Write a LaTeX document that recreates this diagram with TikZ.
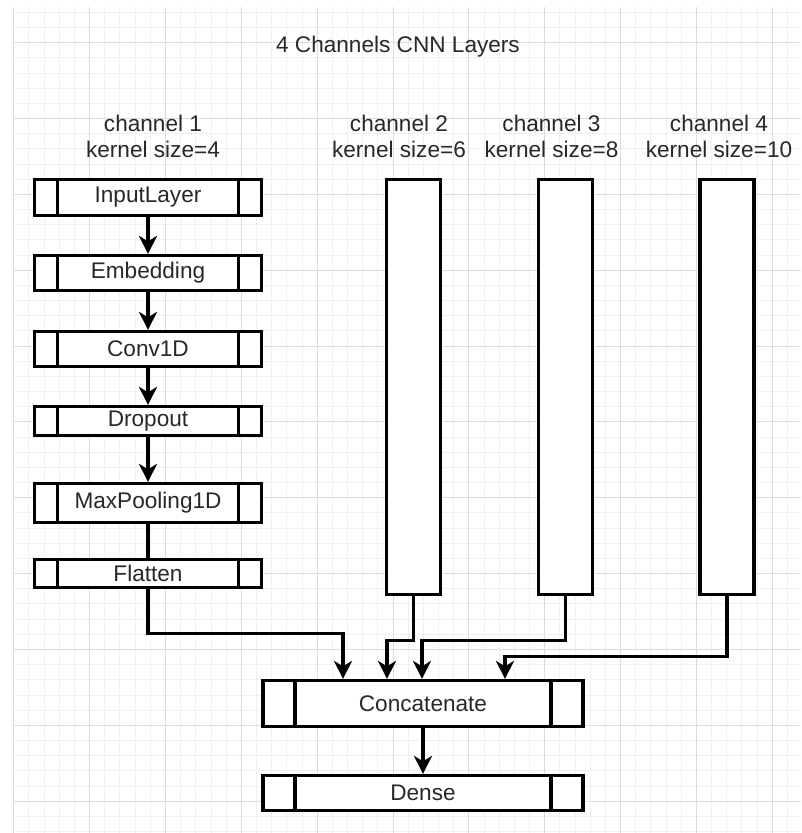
\documentclass[tikz,border=0pt]{standalone}
\usepackage{fontspec}
\setmainfont{Liberation Sans}
\usetikzlibrary{arrows.meta,calc}
\definecolor{gridminor}{RGB}{240,240,240}
\definecolor{gridmajor}{RGB}{220,220,220}
\definecolor{txt}{RGB}{40,40,40}
\tikzset{
  layer/.style={draw, line width=3.2pt, fill=white, inner sep=0pt, minimum width=#1,
    path picture={
      \draw[line width=3.2pt] ($(path picture bounding box.north west)!0.1!(path picture bounding box.north east)$)
        -- ($(path picture bounding box.south west)!0.1!(path picture bounding box.south east)$);
      \draw[line width=3.2pt] ($(path picture bounding box.north west)!0.9!(path picture bounding box.north east)$)
        -- ($(path picture bounding box.south west)!0.9!(path picture bounding box.south east)$);
    }},
  chan/.style={draw, line width=3.2pt, fill=white, minimum width=54, minimum height=415, inner sep=0pt},
  arr/.style={line width=3.2pt, -{Stealth[length=18pt,width=18pt,inset=5.5pt]}},
  link/.style={line width=3.2pt}
}
\begin{document}
\begin{tikzpicture}[x=1pt,y=-1pt,font=\fontsize{22.6}{26}\selectfont,text=txt]
  \useasboundingbox[fill=white] (0,0) rectangle (801,833);
  % background grid
  \foreach \i in {0,...,51} \draw[gridminor] ({13.5+15.17*\i},7) -- ({13.5+15.17*\i},833);
  \foreach \j in {0,...,54} \draw[gridminor] (13,{12.06+15.17*\j}) -- (801,{12.06+15.17*\j});
  \foreach \i in {0,...,10} \draw[gridmajor] ({13.5+75.85*\i},7) -- ({13.5+75.85*\i},833);
  \foreach \j in {0,...,10} \draw[gridmajor] (13,{42.4+75.85*\j}) -- (801,{42.4+75.85*\j});

  \node[anchor=base] (ttl) at (398,52) {4 Channels CNN Layers};
  \node[align=center] (l1) at (153,136.5) {channel 1\\kernel size=4};
  \node[align=center] (l2) at (399,136.5) {channel 2\\kernel size=6};
  \node[align=center] (l3) at (551.5,136.5) {channel 3\\kernel size=8};
  \node[align=center] (l4) at (719,136.5) {channel 4\\kernel size=10};

  % channel 1
  \node[layer=227, minimum height=36] (inp) at (148,197.5) {InputLayer};
  \node[layer=227, minimum height=35] (emb) at (148,273) {Embedding};
  \node[layer=227, minimum height=35] (conv) at (148,349) {Conv1D};
  \node[layer=227, minimum height=29] (drop) at (148,421) {Dropout};
  \node[layer=227, minimum height=39] (pool) at (148,503) {MaxPooling1D};
  \node[layer=227, minimum height=28] (flat) at (148,573.5) {Flatten};

  % channels 2-4
  \node[chan] (c2) at (413.5,387) {};
  \node[chan] (c3) at (565.5,387) {};
  \node[chan] (c4) at (727,387) {};

  \node[layer=320, minimum height=46] (cat) at (423,703.5) {Concatenate};
  \node[layer=320, minimum height=35] (dense) at (423,793) {Dense};

  \draw[arr] (inp) -- (emb);
  \draw[arr] (emb) -- (conv);
  \draw[arr] (conv) -- (drop);
  \draw[arr] (drop) -- (pool);
  \draw[link] (pool) -- (flat);
  \draw[arr] (flat.south) -- ++(0,44.5) -| ([xshift=-80]cat.north);
  \draw[arr] (c2.south) -- ++(0,44.5) -| ([xshift=-36]cat.north);
  \draw[arr] (c3.south) -- ++(0,44.5) -| ([xshift=-1]cat.north);
  \draw[arr] (c4.south) -- ++(0,60.5) -| ([xshift=82]cat.north);
  \draw[arr] (cat) -- (dense);
\end{tikzpicture}
\end{document}
